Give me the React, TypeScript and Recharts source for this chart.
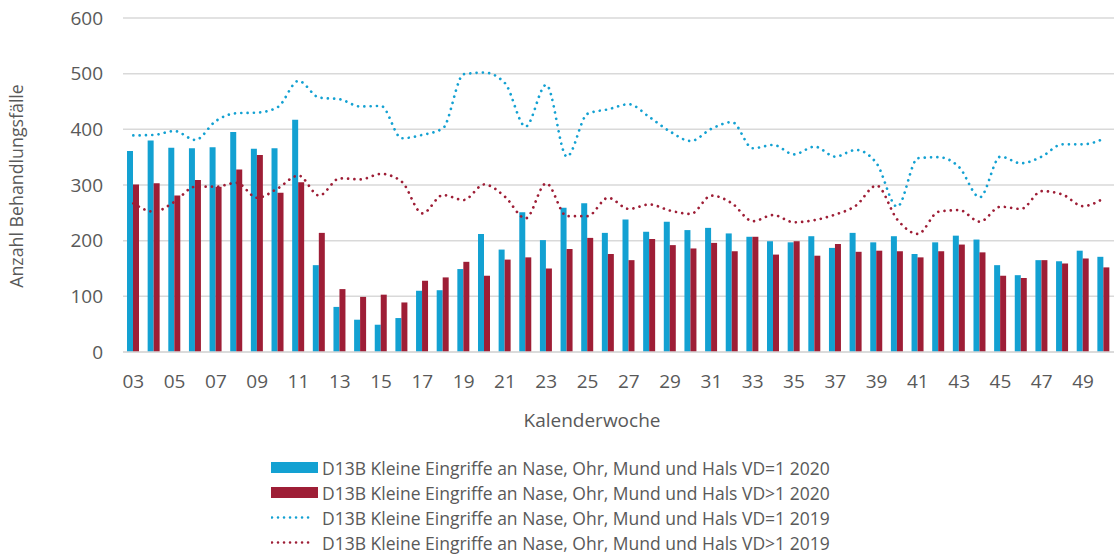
import { Bar, CartesianGrid, ComposedChart, Legend, Line, XAxis, YAxis } from "recharts"

const weeks = [
  "03", "04", "05", "06", "07", "08", "09", "10", "11", "12", "13", "14", "15", "16", "17", "18",
  "19", "20", "21", "22", "23", "24", "25", "26", "27", "28", "29", "30", "31", "32", "33", "34",
  "35", "36", "37", "38", "39", "40", "41", "42", "43", "44", "45", "46", "47", "48", "49", "50",
]

// VD=1 2020 (bars, blue)
const vd1_2020 = [
  361, 380, 367, 366, 368, 395, 365, 366, 417, 156, 81, 58, 49, 61, 110, 111,
  149, 212, 184, 251, 201, 259, 267, 214, 238, 216, 234, 219, 223, 213, 207, 199,
  197, 208, 187, 214, 197, 208, 176, 197, 209, 202, 156, 138, 165, 163, 182, 171,
]

// VD>1 2020 (bars, red)
const vdMulti_2020 = [
  301, 303, 281, 309, 297, 328, 354, 286, 305, 214, 113, 99, 103, 89, 128, 134,
  162, 137, 166, 170, 150, 185, 205, 176, 165, 203, 192, 186, 196, 181, 207, 175,
  199, 173, 194, 180, 182, 181, 170, 181, 193, 179, 137, 133, 165, 159, 168, 152,
]

// VD=1 2019 (dotted line, blue)
const vd1_2019 = [
  389, 390, 397, 381, 415, 429, 430, 440, 487, 457, 454, 441, 442, 384, 390, 402,
  499, 502, 483, 405, 480, 351, 428, 436, 445, 422, 396, 379, 401, 413, 366, 372,
  355, 369, 351, 363, 339, 261, 348, 350, 332, 278, 351, 339, 351, 373, 373, 383,
]

// VD>1 2019 (dotted line, red)
const vdMulti_2019 = [
  267, 252, 270, 297, 297, 304, 277, 294, 317, 281, 312, 310, 320, 306, 249, 282,
  273, 301, 279, 240, 303, 244, 244, 277, 257, 265, 254, 248, 281, 267, 235, 246,
  233, 237, 247, 263, 299, 238, 212, 252, 255, 234, 261, 257, 289, 283, 262, 276,
]

const yTicks = [0, 100, 200, 300, 400, 500, 600]

const BLUE = "#13A1D2"
const RED = "#9E1E36"
const TEXT = "#595959"
const FONT = "'Open Sans', sans-serif"

const seriesNames = [
  "D13B Kleine Eingriffe an Nase, Ohr, Mund und Hals VD=1 2020",
  "D13B Kleine Eingriffe an Nase, Ohr, Mund und Hals VD>1 2020",
  "D13B Kleine Eingriffe an Nase, Ohr, Mund und Hals VD=1 2019",
  "D13B Kleine Eingriffe an Nase, Ohr, Mund und Hals VD>1 2019",
]

const data = weeks.map((w, i) => ({
  week: w,
  a: vd1_2020[i],
  b: vdMulti_2020[i],
  c: vd1_2019[i],
  d: vdMulti_2019[i],
}))

function ChartLegend() {
  const items = [
    { name: seriesNames[0], color: BLUE, kind: "bar" },
    { name: seriesNames[1], color: RED, kind: "bar" },
    { name: seriesNames[2], color: BLUE, kind: "line" },
    { name: seriesNames[3], color: RED, kind: "line" },
  ]
  return (
    <div style={{ fontFamily: FONT, fontSize: 17.5, color: TEXT }}>
      {items.map((it) => (
        <div key={it.name} style={{ display: "flex", alignItems: "center", height: 25 }}>
          {it.kind === "bar" ? (
            <div style={{ width: 47, height: 11, background: it.color, marginRight: 4 }} />
          ) : (
            <svg width={47} height={11} style={{ marginRight: 4 }}>
              <line
                x1={1}
                x2={41}
                y1={5.5}
                y2={5.5}
                stroke={it.color}
                strokeWidth={2.6}
                strokeDasharray="0.01 6"
                strokeLinecap="round"
              />
            </svg>
          )}
          <span style={{ whiteSpace: "nowrap" }}>{it.name}</span>
        </div>
      ))}
    </div>
  )
}

export default function App() {
  return (
    <div style={{ position: "absolute", left: 0, top: 0, width: 1116, height: 554, background: "#fff" }}>
      <ComposedChart
        width={1116}
        height={554}
        data={data}
        margin={{ top: 18, right: 2, bottom: 122, left: 0 }}
        barGap={0}
        barSize={6}
      >
        <CartesianGrid vertical={false} stroke="#d9d9d9" strokeWidth={1.5} />
        <XAxis
          dataKey="week"
          interval={1}
          tickLine={false}
          axisLine={{ stroke: "#d9d9d9", strokeWidth: 1.5 }}
          tickMargin={17}
          height={80}
          tick={{ fill: TEXT, fontSize: 19, fontFamily: FONT }}
          label={{
            content: () => (
              <text x={592} y={427} textAnchor="middle" fill={TEXT} fontSize={19} fontFamily={FONT}>
                Kalenderwoche
              </text>
            ),
          }}
        />
        <YAxis
          width={123}
          domain={[0, 600]}
          ticks={yTicks}
          tickLine={false}
          axisLine={false}
          tickMargin={14}
          tick={{ fill: TEXT, fontSize: 19, fontFamily: FONT }}
          label={{
            content: () => (
              <text
                x={23}
                y={186}
                transform="rotate(-90, 23, 186)"
                textAnchor="middle"
                fill={TEXT}
                fontSize={17.8}
                fontFamily={FONT}
              >
                Anzahl Behandlungsfälle
              </text>
            ),
          }}
        />
        <Bar dataKey="a" name={seriesNames[0]} fill={BLUE} isAnimationActive={false} />
        <Bar dataKey="b" name={seriesNames[1]} fill={RED} isAnimationActive={false} />
        <Line
          type="monotone"
          dataKey="c"
          name={seriesNames[2]}
          stroke={BLUE}
          strokeWidth={2.7}
          strokeDasharray="0.01 6.3"
          strokeLinecap="round"
          dot={false}
          activeDot={false}
          isAnimationActive={false}
        />
        <Line
          type="monotone"
          dataKey="d"
          name={seriesNames[3]}
          stroke={RED}
          strokeWidth={2.7}
          strokeDasharray="0.01 6.3"
          strokeLinecap="round"
          dot={false}
          activeDot={false}
          isAnimationActive={false}
        />
        <Legend
          layout="vertical"
          align="center"
          verticalAlign="middle"
          content={() => <ChartLegend />}
          wrapperStyle={{ position: "absolute", left: 271, top: 455, width: 620 }}
        />
      </ComposedChart>
    </div>
  )
}
